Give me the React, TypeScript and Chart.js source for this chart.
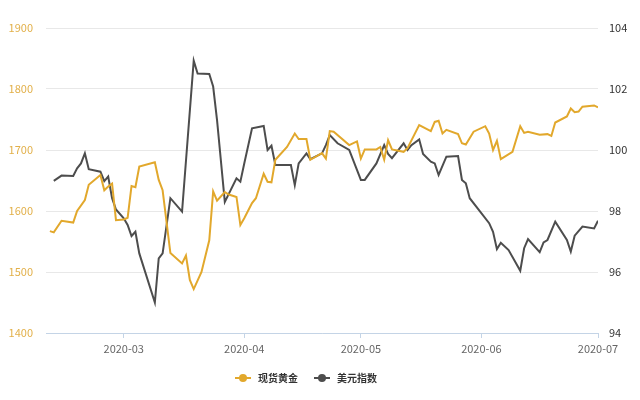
import React, { useEffect, useRef } from "react";
import { Chart, registerables } from "chart.js";

Chart.register(...registerables);

const goldDates = [
  "2020-02-11", "2020-02-12", "2020-02-14", "2020-02-17", "2020-02-18", "2020-02-20", "2020-02-21", "2020-02-24", "2020-02-25", "2020-02-26", "2020-02-27", "2020-02-28",
  "2020-03-01", "2020-03-02", "2020-03-03", "2020-03-04", "2020-03-05", "2020-03-09", "2020-03-10", "2020-03-11", "2020-03-13", "2020-03-16", "2020-03-17", "2020-03-18", "2020-03-19", "2020-03-21", "2020-03-23", "2020-03-24", "2020-03-25", "2020-03-27", "2020-03-28", "2020-03-29", "2020-03-30", "2020-03-31",
  "2020-04-01", "2020-04-03", "2020-04-04", "2020-04-06", "2020-04-07", "2020-04-08", "2020-04-09", "2020-04-12", "2020-04-14", "2020-04-15", "2020-04-17", "2020-04-18", "2020-04-21", "2020-04-22", "2020-04-23", "2020-04-24", "2020-04-28", "2020-04-30",
  "2020-05-01", "2020-05-02", "2020-05-05", "2020-05-06", "2020-05-07", "2020-05-08", "2020-05-09", "2020-05-12", "2020-05-13", "2020-05-16", "2020-05-19", "2020-05-20", "2020-05-21", "2020-05-22", "2020-05-23", "2020-05-26", "2020-05-27", "2020-05-28", "2020-05-30",
  "2020-06-02", "2020-06-03", "2020-06-04", "2020-06-05", "2020-06-06", "2020-06-09", "2020-06-11", "2020-06-12", "2020-06-13", "2020-06-16", "2020-06-18", "2020-06-19", "2020-06-20", "2020-06-23", "2020-06-24", "2020-06-25", "2020-06-26", "2020-06-27", "2020-06-30",
  "2020-07-01",
];
const goldValues = [
  1567, 1565, 1584, 1581, 1600, 1618, 1643, 1659, 1634, 1640, 1645, 1585,
  1586, 1589, 1641, 1639, 1673, 1680, 1651, 1634, 1531, 1514, 1527, 1487, 1472, 1500, 1552, 1632, 1617, 1631, 1627, 1625, 1623, 1577,
  1588, 1613, 1621, 1661, 1648, 1647, 1684, 1705, 1727, 1718, 1718, 1684, 1695, 1686, 1731, 1730, 1708, 1714,
  1686, 1701, 1701, 1705, 1684, 1716, 1701, 1697, 1703, 1741, 1731, 1746, 1748, 1727, 1733, 1726, 1711, 1709, 1730,
  1739, 1727, 1700, 1715, 1685, 1697, 1739, 1728, 1730, 1725, 1726, 1723, 1745, 1755, 1768, 1762, 1763, 1771, 1773,
  1770,
];

const usdDates = [
  "2020-02-12", "2020-02-14", "2020-02-17", "2020-02-18", "2020-02-19", "2020-02-20", "2020-02-21", "2020-02-24", "2020-02-25", "2020-02-26", "2020-02-27", "2020-02-28",
  "2020-03-01", "2020-03-02", "2020-03-03", "2020-03-04", "2020-03-05", "2020-03-09", "2020-03-10", "2020-03-11", "2020-03-13", "2020-03-16", "2020-03-19", "2020-03-20", "2020-03-23", "2020-03-24", "2020-03-25", "2020-03-27", "2020-03-30", "2020-03-31",
  "2020-04-01", "2020-04-03", "2020-04-06", "2020-04-07", "2020-04-08", "2020-04-09", "2020-04-13", "2020-04-14", "2020-04-15", "2020-04-17", "2020-04-18", "2020-04-21", "2020-04-22", "2020-04-23", "2020-04-25", "2020-04-28",
  "2020-05-01", "2020-05-02", "2020-05-05", "2020-05-07", "2020-05-08", "2020-05-09", "2020-05-12", "2020-05-13", "2020-05-14", "2020-05-16", "2020-05-17", "2020-05-19", "2020-05-20", "2020-05-21", "2020-05-23", "2020-05-26", "2020-05-27", "2020-05-28", "2020-05-29",
  "2020-06-03", "2020-06-04", "2020-06-05", "2020-06-06", "2020-06-08", "2020-06-11", "2020-06-12", "2020-06-13", "2020-06-16", "2020-06-17", "2020-06-18", "2020-06-20", "2020-06-23", "2020-06-24", "2020-06-25", "2020-06-27", "2020-06-30",
  "2020-07-01",
];
const usdValues = [
  98.99, 99.16, 99.15, 99.4, 99.56, 99.89, 99.37, 99.29, 98.98, 99.13, 98.42, 98.05,
  97.76, 97.54, 97.18, 97.32, 96.61, 95.0, 96.45, 96.61, 98.42, 97.98, 102.93, 102.51, 102.49, 102.08, 100.98, 98.3, 99.07, 98.96,
  99.56, 100.71, 100.79, 100.0, 100.14, 99.51, 99.51, 98.85, 99.56, 99.89, 99.7, 99.89, 100.16, 100.49, 100.22, 100.0,
  99.02, 99.02, 99.56, 100.16, 99.87, 99.73, 100.22, 100.0, 100.16, 100.35, 99.87, 99.62, 99.56, 99.18, 99.78, 99.8, 99.02, 98.91, 98.42,
  97.6, 97.32, 96.75, 96.96, 96.72, 96.04, 96.78, 97.08, 96.65, 96.97, 97.05, 97.65, 97.05, 96.67, 97.19, 97.49, 97.43,
  97.68,
];

const monthTicks = ["2020-03-01", "2020-04-01", "2020-05-01", "2020-06-01", "2020-07-01"];
const axisStart = "2020-02-10";
const axisEnd = "2020-07-01";
const seriesNames = ["现货黄金", "美元指数"];

const DAY = 86400000;
const toDay = (s: string) => {
  const [y, m, d] = s.split("-").map(Number);
  return Date.UTC(y, m - 1, d) / DAY;
};
const fmtMonth = (v: number) => {
  const d = new Date(v * DAY);
  return `${d.getUTCFullYear()}-${String(d.getUTCMonth() + 1).padStart(2, "0")}`;
};

const makeIcon = (color: string) => {
  const c = document.createElement("canvas");
  c.width = 16;
  c.height = 10;
  const ctx = c.getContext("2d")!;
  ctx.strokeStyle = color;
  ctx.lineWidth = 2;
  ctx.beginPath();
  ctx.moveTo(0, 5);
  ctx.lineTo(16, 5);
  ctx.stroke();
  ctx.fillStyle = color;
  ctx.beginPath();
  ctx.arc(8, 5, 4, 0, Math.PI * 2);
  ctx.fill();
  return c;
};

const FONT = "'Noto Sans CJK SC', 'Noto Sans', sans-serif";

const legendShift = {
  id: "legendShift",
  afterLayout(chart: any) {
    const l = chart.legend;
    if (l) {
      l.left -= 15;
      l.right -= 15;
    }
  },
};

export default function App() {
  const ref = useRef<HTMLCanvasElement>(null);
  useEffect(() => {
    const goldColor = "#e2a82c";
    const usdColor = "#4d4d4d";
    const chart = new Chart(ref.current!, {
      type: "line",
      plugins: [legendShift],
      data: {
        datasets: [
          {
            label: seriesNames[0],
            data: goldDates.map((d, i) => ({ x: toDay(d), y: goldValues[i] })),
            borderColor: goldColor,
            backgroundColor: goldColor,
            borderWidth: 2,
            pointRadius: 0,
            pointHoverRadius: 0,
            pointStyle: makeIcon(goldColor),
            yAxisID: "y",
            tension: 0,
          },
          {
            label: seriesNames[1],
            data: usdDates.map((d, i) => ({ x: toDay(d), y: usdValues[i] })),
            borderColor: usdColor,
            backgroundColor: usdColor,
            borderWidth: 2,
            pointRadius: 0,
            pointHoverRadius: 0,
            pointStyle: makeIcon(usdColor),
            yAxisID: "y1",
            tension: 0,
          },
        ],
      },
      options: {
        responsive: false,
        animation: false,
        layout: { padding: { top: 28, left: 0, right: 0, bottom: 7 } },
        plugins: {
          tooltip: { enabled: false },
          legend: {
            position: "bottom",
            labels: {
              usePointStyle: true,
              pointStyleWidth: 20,
              boxHeight: 10,
              padding: 14,
              color: "#333",
              font: { size: 10, family: FONT, weight: "bold" },
            },
          },
        },
        scales: {
          x: {
            type: "linear",
            min: toDay(axisStart),
            max: toDay(axisEnd),
            afterBuildTicks: (s: any) => {
              s.ticks = monthTicks.map((m) => ({ value: toDay(m) }));
            },
            afterFit: (s: any) => {
              s.height = 26;
            },
            ticks: {
              callback: (v: any) => fmtMonth(Number(v)),
              color: "#666",
              font: { size: 11, family: FONT },
              padding: 4,
              maxRotation: 0,
              autoSkip: false,
            },
            grid: { drawOnChartArea: false, drawTicks: true, tickLength: 5, color: "#c4d4e6" },
            border: { color: "#c4d4e6", width: 1 },
          },
          y: {
            position: "left",
            min: 1400,
            max: 1900,
            afterFit: (s: any) => {
              s.width = 46;
            },
            ticks: {
              stepSize: 100,
              color: "#e2b04a",
              padding: 13,
              font: { size: 11, family: FONT },
              callback: (v: any) => String(v),
            },
            grid: { color: "#e8e8e8", drawTicks: false },
            border: { display: false },
          },
          y1: {
            position: "right",
            min: 94,
            max: 104,
            afterFit: (s: any) => {
              s.width = 42;
            },
            ticks: {
              stepSize: 2,
              color: "#333",
              padding: 11,
              font: { size: 11, family: FONT },
              callback: (v: any) => String(v),
            },
            grid: { drawOnChartArea: false, drawTicks: false },
            border: { display: false },
          },
        },
      },
    });
    return () => chart.destroy();
  }, []);
  return (
    <div style={{ position: "absolute", left: 0, top: 0, width: 640, height: 400, background: "#fff" }}>
      <canvas ref={ref} width={640} height={400} style={{ display: "block" }} />
    </div>
  );
}
